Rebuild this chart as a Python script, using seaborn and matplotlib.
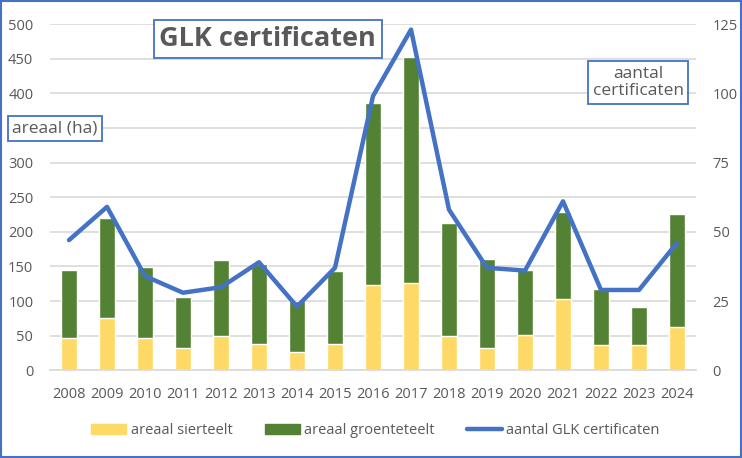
import matplotlib
matplotlib.use("Agg")
import matplotlib.pyplot as plt
import seaborn as sns
import pandas as pd
from matplotlib.patches import Patch, Rectangle
from matplotlib.lines import Line2D

years = [str(y) for y in range(2008, 2025)]
sierteelt = [47, 76, 47, 32, 50, 38, 27, 38, 123, 126, 49, 32, 51, 103, 36, 36, 63]
totaal = [145, 220, 149, 106, 159, 153, 100, 144, 386, 452, 212, 161, 145, 228, 118, 91, 226]
groenteteelt = [t - s for t, s in zip(totaal, sierteelt)]
certificaten = [47, 59, 34, 28, 30, 39, 23, 37, 99, 123, 58, 37, 36, 61, 29, 29, 46]

df = pd.DataFrame({"jaar": years, "sier": sierteelt, "groente": groenteteelt,
                   "totaal": totaal, "cert": certificaten})

sns.set_style("white")
plt.rcParams["font.family"] = ["Open Sans", "DejaVu Sans"]

yellow = "#FFD966"
green = "#548235"
blue = "#4472C4"
grey = "#595959"

fig = plt.figure(figsize=(7.42, 4.58), dpi=100)
ax = fig.add_axes([0.0674, 0.1915, 0.8706, 0.756])

# stacked bars: total (green) behind, sierteelt (yellow) in front
sns.barplot(data=df, x="jaar", y="totaal", color=green, width=0.4, ax=ax, saturation=1)
sns.barplot(data=df, x="jaar", y="sier", color=yellow, width=0.4, ax=ax, saturation=1)

ax.set_ylim(0, 500)
yt = list(range(0, 501, 50))
ax.set_yticks(yt)
# the 350 label sits under the "areaal (ha)" box in the original
ax.set_yticklabels(["" if v == 350 else str(v) for v in yt])
ax.set_xlim(-0.5, len(years) - 0.5)
ax.yaxis.grid(True, color="#D9D9D9", linewidth=1.2)
ax.set_axisbelow(True)
for s in ["top", "right", "left"]:
    ax.spines[s].set_visible(False)
ax.spines["bottom"].set_color("#D9D9D9")
ax.spines["bottom"].set_linewidth(1.2)
ax.set_xlabel("")
ax.set_ylabel("")
ax.tick_params(axis="both", length=0, labelsize=10.5, labelcolor=grey)
ax.tick_params(axis="y", pad=12)
ax.tick_params(axis="x", pad=12)

ax2 = ax.twinx()
sns.lineplot(x=list(range(len(years))), y=certificaten, color=blue, linewidth=3.2, ax=ax2)
ax2.set_ylim(0, 125)
ax2.set_yticks(range(0, 126, 25))
for s in ax2.spines.values():
    s.set_visible(False)
ax2.tick_params(axis="y", length=0, labelsize=10.5, labelcolor=grey, pad=12)

# title and axis labels in boxes
fig.text(0.361, 0.914, "GLK certificaten", fontsize=19.5, fontweight="bold", color=grey,
         ha="center", va="center",
         bbox=dict(boxstyle="square,pad=0.22", facecolor="white", edgecolor=blue, linewidth=1.3))
fig.text(0.074, 0.72, "areaal (ha)", fontsize=12.5, color=grey, ha="center", va="center",
         bbox=dict(boxstyle="square,pad=0.25", facecolor="white", edgecolor=blue, linewidth=1.3))
fig.text(0.860, 0.82, "aantal\ncertificaten", fontsize=12.5, color=grey, ha="center", va="center",
         linespacing=1.15,
         bbox=dict(boxstyle="square,pad=0.25", facecolor="white", edgecolor=blue, linewidth=1.3))

handles = [Patch(color=yellow), Patch(color=green), Line2D([0], [0], color=blue, linewidth=3.2)]
labels = ["areaal sierteelt", "areaal groenteteelt", "aantal GLK certificaten"]
fig.legend(handles, labels, loc="center", bbox_to_anchor=(0.506, 0.059), ncol=3,
           frameon=False, fontsize=10.5, labelcolor=grey, handlelength=2.4,
           handleheight=0.7, columnspacing=2.2, handletextpad=0.3)

# outer border of the chart
fig.patches.append(Rectangle((0.002, 0.003), 0.996, 0.994, transform=fig.transFigure,
                             fill=False, edgecolor=blue, linewidth=1.5))

fig.savefig("out.png", dpi=100)
